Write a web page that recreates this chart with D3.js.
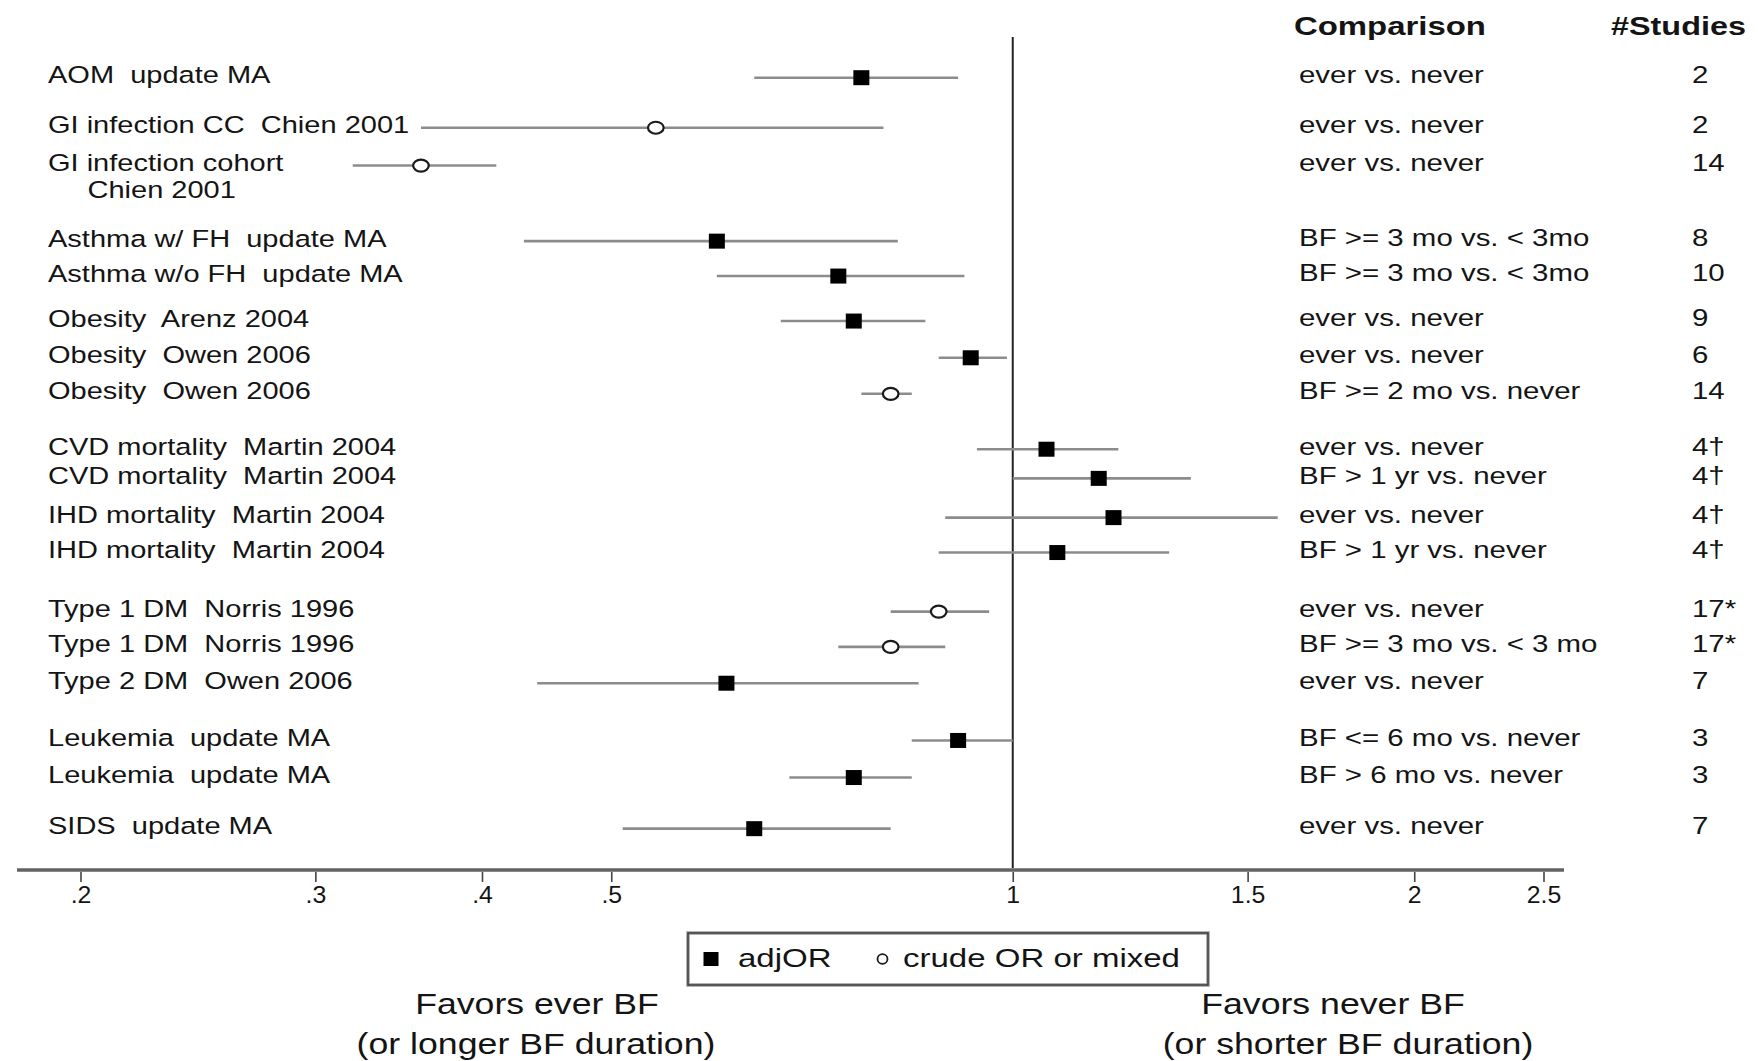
<!DOCTYPE html>
<html>
<head>
<meta charset="utf-8">
<script src="https://cdn.jsdelivr.net/npm/d3@7/dist/d3.min.js"></script>
<style>
  html, body { margin: 0; padding: 0; background: #fff; }
  svg text { font-family: "Liberation Sans", Arial, Helvetica, sans-serif; fill: #141414; white-space: pre; }
</style>
</head>
<body>
<svg id="chart" width="1758" height="1061"></svg>
<script>
// Outcome / study labels (one row per estimate)
const outcomes = [
  "AOM  update MA",
  "GI infection CC  Chien 2001",
  "GI infection cohort\nChien 2001",
  "Asthma w/ FH  update MA",
  "Asthma w/o FH  update MA",
  "Obesity  Arenz 2004",
  "Obesity  Owen 2006",
  "Obesity  Owen 2006",
  "CVD mortality  Martin 2004",
  "CVD mortality  Martin 2004",
  "IHD mortality  Martin 2004",
  "IHD mortality  Martin 2004",
  "Type 1 DM  Norris 1996",
  "Type 1 DM  Norris 1996",
  "Type 2 DM  Owen 2006",
  "Leukemia  update MA",
  "Leukemia  update MA",
  "SIDS  update MA"
];

// Odds ratios with 95% confidence limits
const oddsRatio = [0.77, 0.54, 0.36, 0.60, 0.74, 0.76, 0.93, 0.81, 1.06, 1.16, 1.19, 1.08, 0.88, 0.81, 0.61, 0.91, 0.76, 0.64];
const lowerCI   = [0.64, 0.36, 0.32, 0.43, 0.60, 0.67, 0.88, 0.77, 0.94, 1.00, 0.89, 0.88, 0.81, 0.74, 0.44, 0.84, 0.68, 0.51];
const upperCI   = [0.91, 0.80, 0.41, 0.82, 0.92, 0.86, 0.99, 0.84, 1.20, 1.36, 1.58, 1.31, 0.96, 0.89, 0.85, 1.00, 0.84, 0.81];

// "adj" = adjusted OR, "crude" = crude OR or mixed
const estimateType = ["adj", "crude", "crude", "adj", "adj", "adj", "adj", "crude", "adj", "adj",
                      "adj", "adj", "crude", "crude", "adj", "adj", "adj", "adj"];

const comparisons = [
  "ever vs. never",
  "ever vs. never",
  "ever vs. never",
  "BF >= 3 mo vs. < 3mo",
  "BF >= 3 mo vs. < 3mo",
  "ever vs. never",
  "ever vs. never",
  "BF >= 2 mo vs. never",
  "ever vs. never",
  "BF > 1 yr vs. never",
  "ever vs. never",
  "BF > 1 yr vs. never",
  "ever vs. never",
  "BF >= 3 mo vs. < 3 mo",
  "ever vs. never",
  "BF <= 6 mo vs. never",
  "BF > 6 mo vs. never",
  "ever vs. never"
];

const nStudies = ["2", "2", "14", "8", "10", "9", "6", "14", "4\u2020", "4\u2020", "4\u2020", "4\u2020",
                  "17*", "17*", "7", "3", "3", "7"];

// Vertical plotting position of each row (row units, top to bottom)
const rowPos = [1, 2.39, 3.44, 5.54, 6.51, 7.76, 8.78, 9.78, 11.32, 12.13, 13.22, 14.19,
                15.83, 16.81, 17.82, 19.41, 20.44, 21.86];

// Log-scale axis ticks
const tickValues = [0.2, 0.3, 0.4, 0.5, 1, 1.5, 2, 2.5];
const tickLabels = [".2", ".3", ".4", ".5", "1", "1.5", "2", "2.5"];

// Legend entries
const legendItems = [
  { type: "adj",   label: "adjOR" },
  { type: "crude", label: "crude OR or mixed" }
];

// ---------------------------------------------------------------------------
const svg = d3.select("#chart");
const axisY = 870;
const textLift = -3;      // text sits slightly above the marker centre line

const x = d3.scaleLog().domain([0.2, 2.5]).range([80.5, 1543.5]);
const y = d3.scaleLinear().domain([0, 22]).range([41.7, 833.7]);

const rows = outcomes.map((o, i) => ({
  label: o, or: oddsRatio[i], lo: lowerCI[i], hi: upperCI[i],
  type: estimateType[i], comp: comparisons[i], n: nStudies[i], pos: rowPos[i]
}));

// draws a piece of horizontally stretched text anchored at (tx, ty)
function addText(parent, tx, ty, str, opts = {}) {
  const t = parent.append("text")
    .attr("transform", `translate(${tx},${ty}) scale(${opts.sx || 1.24},1)`)
    .attr("text-anchor", opts.anchor || "start")
    .attr("font-size", opts.size || 23)
    .attr("font-weight", opts.weight || "normal")
    .attr("xml:space", "preserve");
  const lines = str.split("\n");
  lines.forEach((ln, k) => {
    t.append("tspan")
      .attr("x", k === 0 ? 0 : (opts.indent || 0))
      .attr("dy", k === 0 ? "0.36em" : (opts.lineGap || 27) + "px")
      .text(ln);
  });
  return t;
}

// Reference line at OR = 1
svg.append("line")
  .attr("x1", x(1)).attr("x2", x(1))
  .attr("y1", 37).attr("y2", axisY)
  .attr("stroke", "#222").attr("stroke-width", 2);

// Axis
const axis = d3.axisBottom(x)
  .tickValues(tickValues)
  .tickFormat((d, i) => tickLabels[i])
  .tickSize(12)
  .tickPadding(5);

const gAxis = svg.append("g").attr("transform", `translate(0,${axisY})`).call(axis);
gAxis.select(".domain").remove();
gAxis.selectAll(".tick line").attr("stroke", "#444").attr("stroke-width", 1.6);
gAxis.selectAll(".tick text")
  .attr("font-size", 23)
  .attr("font-family", "Liberation Sans, Arial, sans-serif")
  .attr("fill", "#141414")
  .attr("transform", "scale(1.08,1)");

svg.append("line")
  .attr("x1", 17).attr("x2", 1564)
  .attr("y1", axisY).attr("y2", axisY)
  .attr("stroke", "#8a8a8a").attr("stroke-width", 4);
svg.append("line")
  .attr("x1", 17).attr("x2", 1564)
  .attr("y1", axisY).attr("y2", axisY)
  .attr("stroke", "#555").attr("stroke-width", 1.5);

// Confidence intervals
const gRows = svg.append("g");
gRows.selectAll("line.ci").data(rows).join("line")
  .attr("class", "ci")
  .attr("x1", d => x(d.lo)).attr("x2", d => x(d.hi))
  .attr("y1", d => y(d.pos)).attr("y2", d => y(d.pos))
  .attr("stroke", "#8c8c8c").attr("stroke-width", 2.6);

// Point estimates
gRows.selectAll("rect.adj").data(rows.filter(d => d.type === "adj")).join("rect")
  .attr("class", "adj")
  .attr("x", d => x(d.or) - 8).attr("y", d => y(d.pos) - 7.5)
  .attr("width", 16).attr("height", 15)
  .attr("fill", "#000");

gRows.selectAll("ellipse.crude").data(rows.filter(d => d.type === "crude")).join("ellipse")
  .attr("class", "crude")
  .attr("cx", d => x(d.or)).attr("cy", d => y(d.pos))
  .attr("rx", 7.8).attr("ry", 6)
  .attr("fill", "#fff").attr("stroke", "#1a1a1a").attr("stroke-width", 2.2);

// Row labels, comparison and number of studies
rows.forEach(d => {
  const ty = y(d.pos) + textLift;
  addText(svg, 48, ty, d.label, { size: 23.5, sx: 1.235, indent: 32, lineGap: 27 });
  addText(svg, 1299, ty, d.comp, { size: 23, sx: 1.28 });
  addText(svg, 1692, ty, d.n, { size: 23, sx: 1.28 });
});

// Column headers
addText(svg, 1294, 26, "Comparison", { size: 25.5, sx: 1.29, weight: "bold" });
addText(svg, 1611, 26, "#Studies", { size: 25.5, sx: 1.27, weight: "bold" });

// Legend
const gLeg = svg.append("g");
gLeg.append("rect")
  .attr("x", 688).attr("y", 933).attr("width", 520).attr("height", 52)
  .attr("fill", "#fff").attr("stroke", "#9a9a9a").attr("stroke-width", 3.5);
gLeg.append("rect")
  .attr("x", 688).attr("y", 933).attr("width", 520).attr("height", 52)
  .attr("fill", "none").attr("stroke", "#333").attr("stroke-width", 1.3);

const legX = [711, 882.5];
const legTextX = [738, 903];
legendItems.forEach((it, i) => {
  if (it.type === "adj") {
    gLeg.append("rect").attr("x", legX[i] - 7.5).attr("y", 952).attr("width", 15).attr("height", 14).attr("fill", "#000");
  } else {
    gLeg.append("ellipse").attr("cx", legX[i]).attr("cy", 959).attr("rx", 5).attr("ry", 4.8)
      .attr("fill", "#fff").attr("stroke", "#1a1a1a").attr("stroke-width", 1.8);
  }
  addText(gLeg, legTextX[i], 958, it.label, { size: 26, sx: 1.27 });
});

// Direction captions under the axis
addText(svg, 537, 1004, "Favors ever BF", { size: 29, sx: 1.23, anchor: "middle" });
addText(svg, 536, 1044, "(or longer BF duration)", { size: 29, sx: 1.23, anchor: "middle" });
addText(svg, 1333, 1004, "Favors never BF", { size: 29, sx: 1.23, anchor: "middle" });
addText(svg, 1348, 1044, "(or shorter BF duration)", { size: 29, sx: 1.23, anchor: "middle" });
</script>
</body>
</html>
